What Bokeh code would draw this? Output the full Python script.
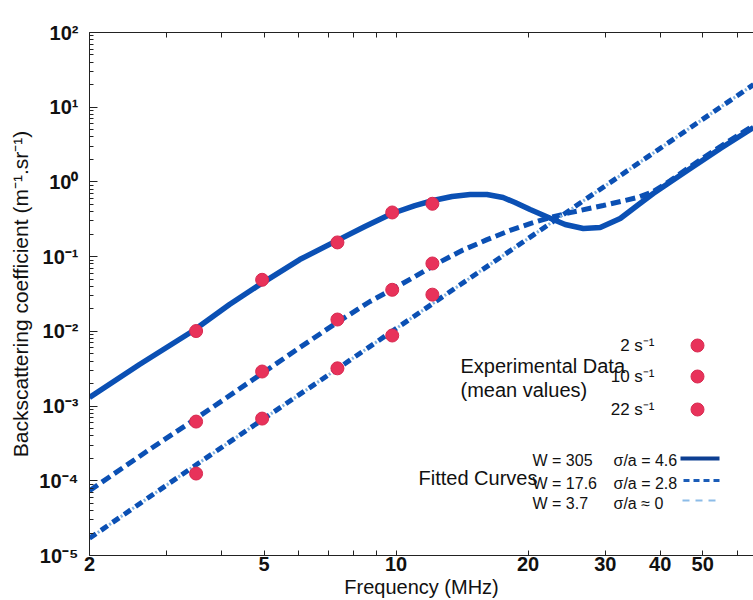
from bokeh.plotting import figure
from bokeh.models import FixedTicker, Label, LogAxis, Range1d, LinearScale, Title
from bokeh.embed import file_html
from bokeh.resources import INLINE

# ---------------- data ----------------
freq_exp = [3.5, 4.95, 7.35, 9.8, 12.1]            # MHz
bsc_2s = [0.0101, 0.049, 0.155, 0.39, 0.51]
bsc_10s = [6.2e-4, 2.9e-3, 0.0144, 0.036, 0.081]
bsc_22s = [1.25e-4, 6.8e-4, 3.2e-3, 8.8e-3, 0.031]

# fitted curve W = 305, sigma/a = 4.6 (solid)
f_w305 = [2.0, 2.6, 3.44, 4.17, 4.97, 6.03, 7.33, 8.49, 9.79, 11.04, 12.14, 13.42, 14.75,
          16.12, 17.54, 18.68, 20.21, 22.81, 24.30, 26.72, 29.20, 32.44, 35.48, 38.58,
          46.14, 54.88, 65.3]
bsc_w305 = [1.30e-3, 3.60e-3, 0.0101, 0.0229, 0.045, 0.0914, 0.164, 0.253, 0.378, 0.483,
            0.564, 0.638, 0.678, 0.678, 0.618, 0.530, 0.427, 0.314, 0.269, 0.238, 0.245,
            0.324, 0.483, 0.700, 1.42, 2.80, 5.35]

# fitted curve W = 17.6, sigma/a = 2.8 (dashed)
f_w176 = [2.0, 2.74, 3.47, 4.94, 6.03, 7.33, 8.72, 9.79, 11.04, 12.40, 14.14, 16.12, 18.19,
          20.21, 22.44, 24.94, 29.66, 35.48, 38.58, 42.20, 46.14, 54.88, 65.3]
bsc_w176 = [7.39e-5, 2.62e-4, 6.59e-4, 2.72e-3, 6.07e-3, 0.0131, 0.0251, 0.0363, 0.0542,
            0.0809, 0.121, 0.169, 0.224, 0.277, 0.334, 0.389, 0.483, 0.618, 0.743, 1.04,
            1.51, 2.98, 5.69]

# fitted curve W = 3.7, sigma/a ~ 0 (dash-dot)
f_w37 = [2.0, 3.47, 4.94, 7.07, 10.0, 14.0, 22.8, 38.6, 65.3]
bsc_w37 = [1.7e-5, 1.58e-4, 6.5e-4, 2.7e-3, 0.0109, 0.042, 0.295, 2.44, 20.1]

x_ticks = [2, 5, 10, 20, 30, 40, 50]
x_tick_labels = ["2", "5", "10", "20", "30", "40", "50"]
x_minor = [3, 4, 6, 7, 8, 9, 60]
y_ticks = [1e-5, 1e-4, 1e-3, 1e-2, 1e-1, 1e0, 1e1, 1e2]
y_tick_labels = ["10⁻⁵", "10⁻⁴", "10⁻³", "10⁻²", "10⁻¹", "10⁰", "10¹", "10²"]
y_minor = [k * d for d in [1e-5, 1e-4, 1e-3, 1e-2, 1e-1, 1e0, 1e1] for k in range(2, 10)]

rates = ["2 s⁻¹", "10 s⁻¹", "22 s⁻¹"]
fit_W = ["W = 305", "W = 17.6", "W = 3.7"]
fit_sig = ["σ/a = 4.6", "σ/a = 2.8", "σ/a ≈ 0"]

FONT = "Liberation Sans"
BLUE = "#0b50b4"
RED = "#e8325a"
TXT = "#111111"

# frame in page pixels: left 89, top 32, right 753, bottom 555
FL, FT, FR, FB = 89, 32, 753, 555

p = figure(width=753, height=600, x_axis_type="log", y_axis_type="log",
           x_range=(2, 65.3), y_range=(1e-5, 1e2),
           output_backend="svg", toolbar_location=None,
           min_border_left=FL, min_border_right=0, min_border_top=FT,
           min_border_bottom=600 - FB)
p.outline_line_color = None
p.grid.visible = False
p.background_fill_color = "white"
p.border_fill_color = "white"

# pixel coordinate system used only for the hand-made legend keys
p.extra_x_ranges = {"px": Range1d(FL, FR)}
p.extra_y_ranges = {"px": Range1d(FB, FT)}
p.extra_x_scales = {"px": LinearScale()}
p.extra_y_scales = {"px": LinearScale()}

# fitted curves
p.line(f_w305, bsc_w305, line_color=BLUE, line_width=5.5)
p.line(f_w176, bsc_w176, line_color=BLUE, line_width=5, line_dash="10 5")
p.line(f_w37, bsc_w37, line_color=BLUE, line_width=5, line_dash="8 6")
p.line(f_w37, bsc_w37, line_color="#7fb0e0", line_width=3, line_dash="2 12", line_dash_offset=4)

# experimental points
for vals in (bsc_2s, bsc_10s, bsc_22s):
    p.scatter(freq_exp, vals, size=13, fill_color=RED, line_color="#d82a50", line_width=1)

# axes
xa = p.xaxis[0]
xa.ticker = FixedTicker(ticks=x_ticks, minor_ticks=x_minor)
xa.major_label_overrides = {t: l for t, l in zip(x_ticks, x_tick_labels)}
top = LogAxis(ticker=FixedTicker(ticks=[], minor_ticks=x_ticks + x_minor))
p.add_layout(top, "above")
for ax in (xa, top):
    ax.major_tick_in = 5
    ax.major_tick_out = 0
    ax.minor_tick_in = 5
    ax.minor_tick_out = 0
    ax.axis_line_color = "#222222"
    ax.major_tick_line_color = "#222222"
    ax.minor_tick_line_color = "#222222"
xa.major_label_text_font = FONT
xa.major_label_text_font_size = "20px"
xa.major_label_text_font_style = "bold"
xa.major_label_text_color = TXT
xa.major_label_standoff = 1

ya = p.yaxis[0]
ya.ticker = FixedTicker(ticks=y_ticks, minor_ticks=y_minor)
ya.major_label_overrides = {t: l for t, l in zip(y_ticks, y_tick_labels)}
ya.major_tick_in = 8
ya.major_tick_out = 0
ya.minor_tick_in = 4
ya.minor_tick_out = 0
ya.axis_line_color = "#222222"
ya.major_tick_line_color = "#222222"
ya.minor_tick_line_color = "#222222"
ya.major_label_text_font = FONT
ya.major_label_text_font_size = "20px"
ya.major_label_text_font_style = "bold"
ya.major_label_text_color = TXT
ya.major_label_standoff = 11
ya.axis_label = "Backscattering coefficient (m⁻¹.sr⁻¹)"
ya.axis_label_text_font = FONT
ya.axis_label_text_font_size = "21px"
ya.axis_label_text_font_style = "normal"
ya.axis_label_text_color = TXT
ya.axis_label_standoff = 4

# x axis title (centred on the full, uncropped axis of the original)
p.add_layout(Title(text="Frequency (MHz)", align="center", offset=29, standoff=0,
                   text_font=FONT, text_font_size="20px", text_font_style="normal",
                   text_color=TXT), "below")


def lab(text, x, y, size, align="left"):
    p.add_layout(Label(x=x - FL, y=FB - y, x_units="screen", y_units="screen", text=text,
                       text_font=FONT, text_font_size=size, text_align=align,
                       text_baseline="middle", text_color=TXT))


lab("Experimental Data", 460, 365, "20px")
lab("(mean values)", 460, 389, "20px")
for txt, yy in zip(rates, [345, 376, 409]):
    lab(txt, 654, yy, "17px", align="right")
lab("Fitted Curves", 418, 477, "20px")
for w, s, yy in zip(fit_W, fit_sig, [460, 483, 503]):
    lab(w, 532, yy, "16px")
    lab(s, 613, yy, "16px")

# legend keys (page-pixel layout positions)
key_dot_x = [697, 697, 697]
key_dot_y = [345, 376, 409]
p.scatter(key_dot_x, key_dot_y, size=13, fill_color=RED, line_color="#d82a50",
          x_range_name="px", y_range_name="px")
p.line([680, 719], [458, 458], line_color="#0d3f92", line_width=4,
       x_range_name="px", y_range_name="px")
p.line([683, 719], [480, 480], line_color="#1a5cb8", line_width=3, line_dash="6 4",
       x_range_name="px", y_range_name="px")
p.line([682, 716], [500, 500], line_color="#8cbce8", line_width=2, line_dash="7 6",
       x_range_name="px", y_range_name="px")

open("out.html", "w").write(file_html(p, INLINE))
